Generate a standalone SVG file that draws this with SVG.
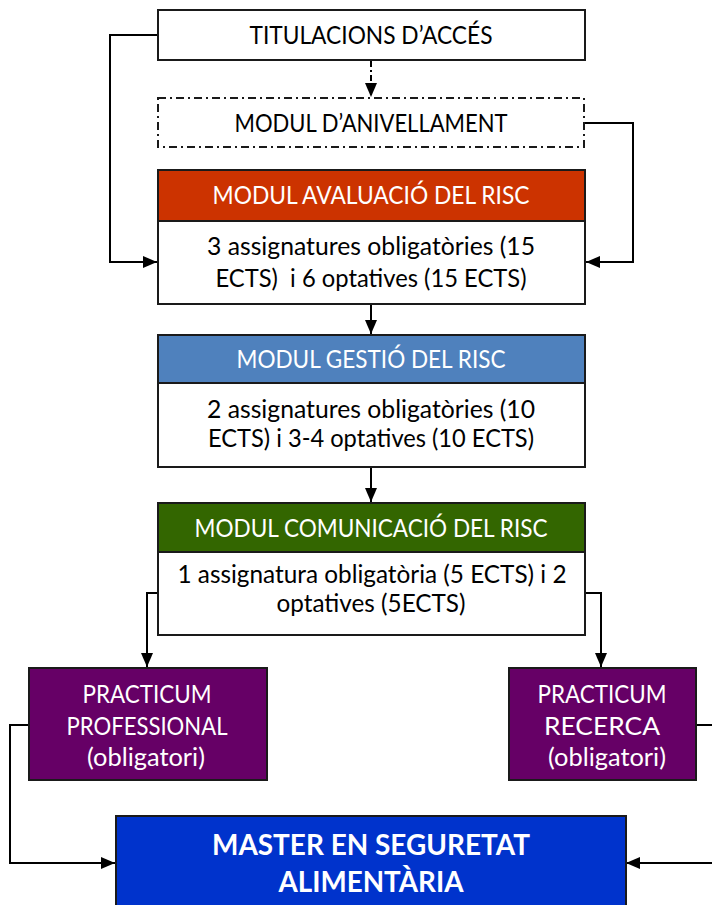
<svg xmlns="http://www.w3.org/2000/svg" width="712" height="905" viewBox="0 0 712 905">
<style>
.box{stroke:#1a1a1a;stroke-width:2}
.w{fill:#ffffff}
.t{font-family:Lato,"Open Sans","Liberation Sans",sans-serif;font-size:25px;text-anchor:middle;fill:#000}
.wt{fill:#ffffff}
.b{font-weight:bold;font-size:29px}
.c{fill:none;stroke:#000;stroke-width:2}
</style>
<defs>
<marker id="ah" viewBox="0 0 14 12" refX="14" refY="6" markerWidth="14" markerHeight="12" markerUnits="userSpaceOnUse" orient="auto">
<path d="M0,0 L14,6 L0,12 Z" fill="#000"/>
</marker>
</defs>
<rect width="712" height="905" fill="#ffffff"/>

<g id="connectors">
<path class="c" d="M158,35 H110 V262 H157" marker-end="url(#ah)"/>
<path class="c" d="M585,123 H633 V262 H586" marker-end="url(#ah)"/>
<path class="c" d="M371,61 V97" stroke-dasharray="6,3,2,3" marker-end="url(#ah)"/>
<path class="c" d="M371,304 V334" marker-end="url(#ah)"/>
<path class="c" d="M371,467 V502" marker-end="url(#ah)"/>
<path class="c" d="M157,593 H147 V667" marker-end="url(#ah)"/>
<path class="c" d="M585,593 H601 V667" marker-end="url(#ah)"/>
<path class="c" d="M28,725 H10 V863 H115" marker-end="url(#ah)"/>
<path class="c" d="M695,725 H715 V863 H626" marker-end="url(#ah)"/>
</g>

<g id="titulacions">
<rect class="box w" x="158" y="10" width="427" height="50"/>
<text class="t" x="371" y="44" textLength="243" lengthAdjust="spacingAndGlyphs">TITULACIONS D’ACCÉS</text>
</g>

<g id="anivellament">
<rect class="w" x="158" y="98" width="426" height="49" stroke="#1a1a1a" stroke-width="2" stroke-dasharray="8,4,2,4"/>
<text class="t" x="371" y="132" textLength="273" lengthAdjust="spacingAndGlyphs">MODUL D’ANIVELLAMENT</text>
</g>

<g id="avaluacio">
<rect class="box" x="158" y="170" width="427" height="51" fill="#CC3300"/>
<rect class="box w" x="158" y="221" width="427" height="83"/>
<text class="t wt" x="371" y="204" textLength="317" lengthAdjust="spacingAndGlyphs">MODUL AVALUACIÓ DEL RISC</text>
<text class="t" x="371" y="255" textLength="328" lengthAdjust="spacingAndGlyphs">3 assignatures obligatòries (15</text>
<text class="t" x="371" y="287" textLength="311" lengthAdjust="spacingAndGlyphs" xml:space="preserve">ECTS)  i 6 optatives (15 ECTS)</text>
</g>

<g id="gestio">
<rect class="box" x="158" y="335" width="427" height="48" fill="#4F81BD"/>
<rect class="box w" x="158" y="383" width="427" height="84"/>
<text class="t wt" x="371" y="368" textLength="269" lengthAdjust="spacingAndGlyphs">MODUL GESTIÓ DEL RISC</text>
<text class="t" x="371" y="418" textLength="328" lengthAdjust="spacingAndGlyphs">2 assignatures obligatòries (10</text>
<text class="t" x="371" y="447" textLength="326" lengthAdjust="spacingAndGlyphs">ECTS) i 3-4 optatives (10 ECTS)</text>
</g>

<g id="comunicacio">
<rect class="box" x="158" y="503" width="427" height="49" fill="#336600"/>
<rect class="box w" x="158" y="552" width="427" height="83"/>
<text class="t wt" x="371" y="537" textLength="353" lengthAdjust="spacingAndGlyphs">MODUL COMUNICACIÓ DEL RISC</text>
<text class="t" x="372" y="583" textLength="389" lengthAdjust="spacingAndGlyphs">1 assignatura obligatòria (5 ECTS) i 2</text>
<text class="t" x="371" y="612" textLength="189" lengthAdjust="spacingAndGlyphs">optatives (5ECTS)</text>
</g>

<g id="practicum-professional">
<rect class="box" x="29" y="668" width="238" height="112" fill="#660066"/>
<text class="t wt" x="147" y="703" textLength="129" lengthAdjust="spacingAndGlyphs">PRACTICUM</text>
<text class="t wt" x="147" y="735" textLength="161" lengthAdjust="spacingAndGlyphs">PROFESSIONAL</text>
<text class="t wt" x="146" y="766" textLength="118" lengthAdjust="spacingAndGlyphs">(obligatori)</text>
</g>

<g id="practicum-recerca">
<rect class="box" x="509" y="668" width="187" height="112" fill="#660066"/>
<text class="t wt" x="602" y="703" textLength="129" lengthAdjust="spacingAndGlyphs">PRACTICUM</text>
<text class="t wt" x="602" y="735" textLength="116" lengthAdjust="spacingAndGlyphs">RECERCA</text>
<text class="t wt" x="607" y="766" textLength="118" lengthAdjust="spacingAndGlyphs">(obligatori)</text>
</g>

<g id="master">
<rect class="box" x="116" y="816" width="510" height="100" fill="#0033CC"/>
<text class="t wt b" x="371" y="855" textLength="318" lengthAdjust="spacingAndGlyphs">MASTER EN SEGURETAT</text>
<text class="t wt b" x="371" y="892" textLength="185" lengthAdjust="spacingAndGlyphs">ALIMENTÀRIA</text>
</g>
</svg>
